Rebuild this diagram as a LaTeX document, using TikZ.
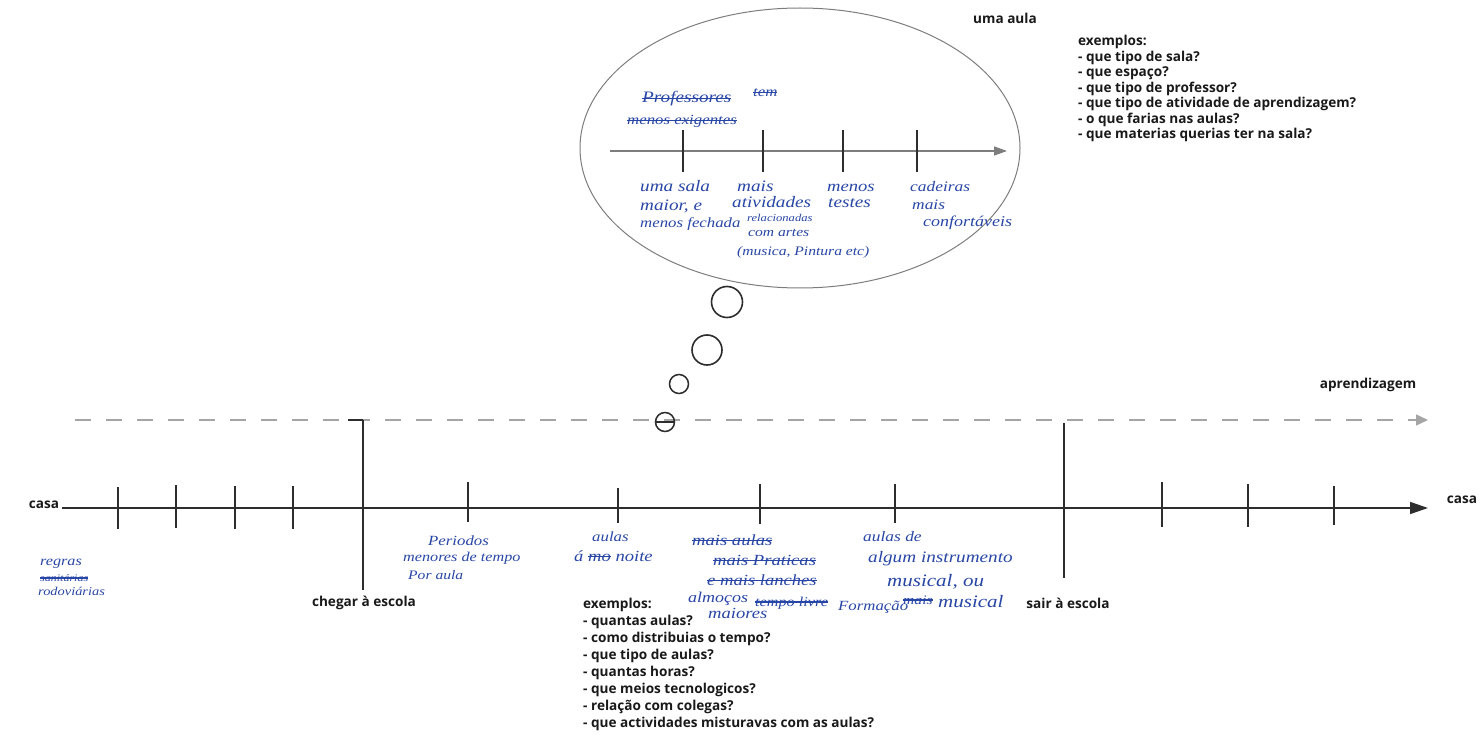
\documentclass[tikz,border=0pt]{standalone}
\usepackage{fontspec}
\setmainfont{Open Sans}
\newfontfamily\hand{Liberation Serif}[FakeStretch=1.2]
\newlength\strkw
\newcommand{\strk}[1]{\settowidth{\strkw}{#1}\rlap{#1}\rule[0.25em]{\strkw}{1.3pt}}
\usetikzlibrary{arrows.meta}
\definecolor{ink}{RGB}{40,70,165}
\definecolor{axis}{RGB}{45,45,45}
\definecolor{dashgray}{RGB}{165,165,165}
\definecolor{bubblegray}{RGB}{125,125,125}
\definecolor{printed}{RGB}{25,25,25}
\begin{document}
\begin{tikzpicture}[x=1pt,y=-1pt,
  printedtext/.style={font=\fontsize{13.6}{15.5}\selectfont\bfseries, text=printed, inner sep=0pt, align=left},
  listbottom/.style={printedtext, font=\fontsize{13.6}{17}\selectfont\bfseries},
  hw/.style={font=\hand\itshape\fontsize{#1}{#1}\selectfont, text=ink, inner sep=0pt, anchor=base west},
  hw/.default=15,
  tickline/.style={draw=axis, line width=1.6pt},
  mainaxis/.style={draw=axis, line width=1.6pt, -{Triangle[length=18pt,width=12pt]}},
  learnaxis/.style={draw=dashgray, line width=1.5pt, dash pattern=on 16pt off 15pt, -{Triangle[length=12pt,width=11pt]}},
  bubbleaxis/.style={draw=bubblegray, line width=1.3pt, -{Triangle[length=13pt,width=9pt]}},
  bubbleline/.style={draw=bubblegray, line width=1pt},
  dot/.style={draw=axis, circle, inner sep=0pt}
]
\useasboundingbox (0,0) rectangle (1481,751);

% ---------- main timeline ----------
\coordinate (mstart) at (62,508);
\coordinate (mend) at (1428,508);
\draw[mainaxis] (mstart) -- (mend);
\foreach \x/\a/\b in {118/487/529, 176/485/528, 235/486/529, 293/486/529,
                      468/482/522, 618/488/523, 760/484/524, 895/484/523,
                      1162/482/527, 1248/484/527, 1334/486/525}
  \draw[tickline] (\x,\a) -- (\x,\b);

% ---------- learning (dashed) ----------
\coordinate (lstart) at (75,420);
\coordinate (lend) at (1428,420);
\draw[learnaxis] (lstart) -- (lend);

% big markers
\coordinate (chegTop) at (363,420);
\coordinate (chegBot) at (363,590);
\coordinate (sairTop) at (1064,423);
\coordinate (sairBot) at (1064,578);
\draw[tickline] (chegTop) -- (chegBot);
\draw[tickline] (348,420) -- (chegTop);
\draw[tickline] (sairTop) -- (sairBot);

% ---------- labels ----------
\node[printedtext, anchor=center] (casaL) at (44,505) {casa};
\node[printedtext, anchor=center] (casaR) at (1462,500) {casa};
\node[printedtext, anchor=center] (aprend) at (1368,385) {aprendizagem};
\node[printedtext, anchor=center] (chegar) at (364,603) {chegar à escola};
\node[printedtext, anchor=center] (sair) at (1068,603) {sair à escola};
\node[printedtext, anchor=center] (umaaula) at (1005,18) {uma aula};

\node[printedtext, anchor=north west] (exTop) at (1078,35) {exemplos:\\
- que tipo de sala?\\
- que espaço?\\
- que tipo de professor?\\
- que tipo de atividade de aprendizagem?\\
- o que farias nas aulas?\\
- que materias querias ter na sala?};

\node[listbottom, anchor=north west] (exBot) at (583,598) {exemplos:\\
- quantas aulas?\\
- como distribuias o tempo?\\
- que tipo de aulas?\\
- quantas horas?\\
- que meios tecnologicos?\\
- relação com colegas?\\
- que actividades misturavas com as aulas?};

% ---------- thought bubble ----------
\node[dot, draw=axis, line width=1.6pt, minimum size=31pt] (c1) at (727,302) {};
\node[dot, draw=axis, line width=1.6pt, minimum size=30pt] (c2) at (707,350) {};
\node[dot, draw=axis, line width=1.5pt, minimum size=19pt] (c3) at (679,384) {};
\node[dot, draw=axis, line width=1.5pt, minimum size=19pt] (c4) at (665,422) {};
\draw[axis, line width=1.5pt] (c4.west) -- (c4.east);

\draw[bubbleline] (800,148) ellipse [x radius=220, y radius=140];
\coordinate (bstart) at (610,151);
\coordinate (bend) at (1007,151);
\draw[bubbleaxis] (bstart) -- (bend);
\foreach \x in {683,763,843,917}
  \draw[tickline] (\x,130) -- (\x,172);

% ---------- handwritten notes in bubble ----------
\node[hw=16] (p1) at (642,103) {\strk{Professores}};
\node[hw=14] (p2) at (753,97) {\strk{tem}};
\node[hw=14] (p3) at (627,125) {\strk{menos exigentes}};

\node[hw=16] (a1) at (640,192) {uma sala};
\node[hw=16] (a2) at (640,211) {maior, e};
\node[hw=14] (a3) at (640,228) {menos fechada};

\node[hw=16] (b1) at (737,192) {mais};
\node[hw=16] (b2) at (732,208) {atividades};
\node[hw=10.5] (b3) at (747,222) {relacionadas};
\node[hw=13] (b4) at (748,237) {com artes};
\node[hw=13] (b5) at (737,256) {(musica, Pintura etc)};

\node[hw=15.5] (m1) at (827,192) {menos};
\node[hw=16] (m2) at (828,208) {testes};

\node[hw=14.5] (d1) at (910,192) {cadeiras};
\node[hw=14.5] (d2) at (912,210) {mais};
\node[hw=15] (d3) at (923,227) {confortáveis};

% ---------- handwritten notes below timeline ----------
\node[hw=13.5] (r1) at (40,565) {regras};
\node[hw=10] (r2) at (40,581) {\strk{sanitárias}};
\node[hw=12] (r3) at (38,595) {rodoviárias};

\node[hw=14] (q1) at (428,545) {Periodos};
\node[hw=13.5] (q2) at (403,561) {menores de tempo};
\node[hw=13] (q3) at (408,579) {Por aula};

\node[hw=14] (n1) at (592,541) {aulas};
\node[hw=15.5] (n2) at (574,561) {á \strk{mo} noite};

\node[hw=15.5] (s1) at (692,545) {\strk{mais aulas}};
\node[hw=15.5] (s2) at (713,565) {\strk{mais Praticas}};
\node[hw=15.5] (s3) at (707,585) {\strk{e mais lanches}};
\node[hw=15] (s4) at (688,602) {almoços};
\node[hw=13.5] (s5) at (755,606) {\strk{tempo livre}};
\node[hw=15.5] (s6) at (708,618) {maiores};

\node[hw=14.5] (f1) at (863,541) {aulas de};
\node[hw=16] (f2) at (868,562) {algum instrumento};
\node[hw=17.5] (f3) at (887,586) {musical, ou};
\node[hw=14] (f4) at (838,610) {Formação};
\node[hw=13] (f5) at (903,604) {\strk{mais}};
\node[hw=17.5] (f6) at (938,607) {musical};
\end{tikzpicture}
\end{document}
